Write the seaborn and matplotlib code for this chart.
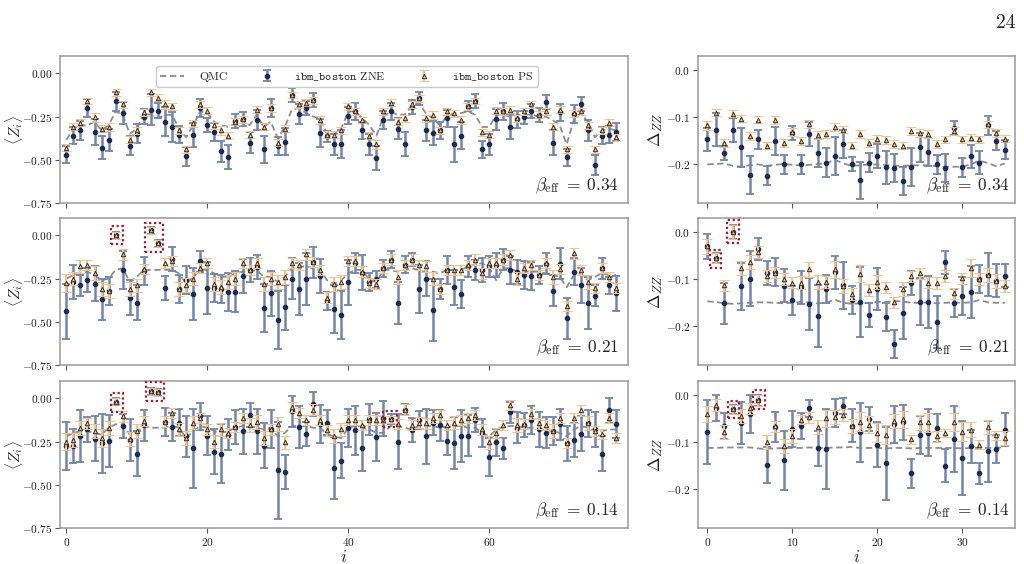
import numpy as np
import pandas as pd
import matplotlib
matplotlib.use("Agg")
import matplotlib.pyplot as plt
import seaborn as sns
from matplotlib.patches import Rectangle
from matplotlib.ticker import FuncFormatter, FixedLocator

# ---------------- data: <Z_i> panels (i = 0..78) ----------------
beta_labels = ["0.34", "0.21", "0.14"]

qmc_z_034 = [-0.385, -0.32, -0.30, -0.30, -0.28, -0.33, -0.30, -0.22, -0.24, -0.35,
             -0.32, -0.23, -0.24, -0.26, -0.24, -0.24, -0.32, -0.37, -0.30, -0.22,
             -0.23, -0.28, -0.30, -0.31, -0.29, -0.27, -0.30, -0.24, -0.31, -0.28,
             -0.375, -0.31, -0.21, -0.20, -0.23, -0.25, -0.26, -0.35, -0.35, -0.32,
             -0.22, -0.22, -0.26, -0.30, -0.36, -0.25, -0.22, -0.24, -0.24, -0.19,
             -0.17, -0.23, -0.26, -0.30, -0.25, -0.23, -0.23, -0.22, -0.24, -0.31,
             -0.31, -0.24, -0.24, -0.25, -0.24, -0.24, -0.24, -0.25, -0.25, -0.27,
             -0.30, -0.41, -0.27, -0.23, -0.28, -0.37, -0.33, -0.32, -0.33]
zne_z_034 = [-0.47, -0.36, -0.33, -0.20, -0.34, -0.43, -0.385, -0.16, -0.23, -0.42,
             -0.35, -0.25, -0.21, -0.215, -0.28, -0.31, -0.355, -0.48, -0.355, -0.20,
             -0.30, -0.34, -0.45, -0.485, -0.275, -0.265, -0.40, -0.27, -0.44, -0.20,
             -0.42, -0.395, -0.125, -0.235, -0.20, -0.155, -0.345, -0.365, -0.41, -0.41,
             -0.245, -0.22, -0.33, -0.41, -0.49, -0.27, -0.22, -0.32, -0.41, -0.195,
             -0.145, -0.33, -0.345, -0.33, -0.26, -0.41, -0.36, -0.19, -0.16, -0.44,
             -0.41, -0.265, -0.22, -0.31, -0.265, -0.255, -0.22, -0.24, -0.165, -0.40,
             -0.225, -0.485, -0.235, -0.175, -0.33, -0.53, -0.36, -0.355, -0.34]
zne_err_z_034 = [0.05, 0.05, 0.055, 0.05, 0.075, 0.065, 0.065, 0.055, 0.065, 0.055,
                 0.055, 0.045, 0.09, 0.045, 0.085, 0.085, 0.05, 0.055, 0.07, 0.05,
                 0.04, 0.05, 0.06, 0.07, 0.04, 0.04, 0.06, 0.06, 0.08, 0.05,
                 0.05, 0.08, 0.04, 0.06, 0.04, 0.04, 0.08, 0.03, 0.06, 0.08,
                 0.05, 0.05, 0.05, 0.06, 0.07, 0.05, 0.05, 0.06, 0.07, 0.04,
                 0.04, 0.06, 0.07, 0.05, 0.05, 0.10, 0.08, 0.03, 0.04, 0.05,
                 0.06, 0.06, 0.05, 0.07, 0.05, 0.04, 0.04, 0.04, 0.04, 0.07,
                 0.05, 0.05, 0.05, 0.04, 0.06, 0.06, 0.05, 0.05, 0.05]
ps_z_034 = [-0.43, -0.31, -0.285, -0.16, -0.255, -0.32, -0.31, -0.11, -0.18, -0.385,
            -0.33, -0.225, -0.11, -0.14, -0.18, -0.19, -0.33, -0.44, -0.29, -0.18,
            -0.215, -0.30, -0.33, -0.36, -0.28, -0.265, -0.355, -0.21, -0.31, -0.20,
            -0.40, -0.32, -0.125, -0.18, -0.17, -0.155, -0.27, -0.355, -0.355, -0.33,
            -0.19, -0.22, -0.27, -0.36, -0.41, -0.22, -0.17, -0.28, -0.26, -0.18,
            -0.145, -0.26, -0.24, -0.33, -0.22, -0.23, -0.27, -0.19, -0.16, -0.34,
            -0.355, -0.215, -0.22, -0.21, -0.26, -0.22, -0.18, -0.24, -0.22, -0.31,
            -0.21, -0.44, -0.23, -0.22, -0.30, -0.44, -0.33, -0.285, -0.37]
ps_err_z_034 = [0.02, 0.02, 0.02, 0.02, 0.025, 0.02, 0.025, 0.02, 0.02, 0.02,
                0.02, 0.02, 0.02, 0.02, 0.025, 0.02, 0.02, 0.02, 0.02, 0.02,
                0.02, 0.02, 0.025, 0.02, 0.02, 0.02, 0.02, 0.02, 0.02, 0.025,
                0.02, 0.02, 0.02, 0.02, 0.02, 0.02, 0.025, 0.02, 0.02, 0.02,
                0.02, 0.02, 0.02, 0.02, 0.025, 0.02, 0.02, 0.02, 0.02, 0.02,
                0.02, 0.02, 0.025, 0.02, 0.02, 0.02, 0.025, 0.02, 0.02, 0.02,
                0.02, 0.02, 0.02, 0.02, 0.02, 0.02, 0.02, 0.02, 0.02, 0.02,
                0.02, 0.02, 0.02, 0.02, 0.02, 0.02, 0.02, 0.02, 0.02]

qmc_z_021 = [-0.25, -0.23, -0.22, -0.21, -0.23, -0.26, -0.25, -0.20, -0.19, -0.27,
             -0.24, -0.20, -0.20, -0.20, -0.20, -0.20, -0.22, -0.28, -0.24, -0.20,
             -0.20, -0.22, -0.24, -0.24, -0.22, -0.21, -0.21, -0.20, -0.24, -0.24,
             -0.27, -0.24, -0.19, -0.18, -0.18, -0.19, -0.20, -0.26, -0.28, -0.26,
             -0.22, -0.20, -0.20, -0.26, -0.27, -0.20, -0.20, -0.21, -0.20, -0.19,
             -0.20, -0.21, -0.21, -0.22, -0.20, -0.20, -0.20, -0.18, -0.17, -0.16,
             -0.19, -0.26, -0.19, -0.19, -0.21, -0.21, -0.21, -0.21, -0.22, -0.23,
             -0.24, -0.30, -0.23, -0.22, -0.26, -0.24, -0.22, -0.23, -0.23]
zne_z_021 = [-0.44, -0.27, -0.29, -0.26, -0.28, -0.37, -0.32, 0.00, -0.20, -0.36,
             -0.39, -0.205, 0.03, -0.045, -0.305, -0.135, -0.31, -0.26, -0.34, -0.15,
             -0.305, -0.305, -0.31, -0.325, -0.325, -0.235, -0.20, -0.185, -0.42, -0.335,
             -0.49, -0.415, -0.25, -0.31, -0.25, -0.155, -0.235, -0.38, -0.425, -0.46,
             -0.27, -0.16, -0.215, -0.27, -0.255, -0.19, -0.14, -0.39, -0.17, -0.14,
             -0.31, -0.25, -0.43, -0.31, -0.20, -0.30, -0.34, -0.18, -0.20, -0.20,
             -0.18, -0.17, -0.14, -0.20, -0.21, -0.23, -0.235, -0.23, -0.165, -0.32,
             -0.165, -0.48, -0.21, -0.29, -0.39, -0.35, -0.19, -0.29, -0.335]
zne_err_z_021 = [0.16, 0.10, 0.06, 0.07, 0.10, 0.12, 0.08, 0.02, 0.11, 0.10,
                 0.10, 0.08, 0.02, 0.02, 0.07, 0.07, 0.08, 0.08, 0.15, 0.06,
                 0.15, 0.08, 0.08, 0.11, 0.12, 0.10, 0.07, 0.07, 0.14, 0.13,
                 0.17, 0.13, 0.12, 0.15, 0.15, 0.09, 0.10, 0.05, 0.14, 0.14,
                 0.13, 0.06, 0.10, 0.05, 0.05, 0.05, 0.05, 0.12, 0.05, 0.04,
                 0.14, 0.10, 0.18, 0.06, 0.08, 0.10, 0.08, 0.06, 0.06, 0.07,
                 0.06, 0.07, 0.06, 0.08, 0.07, 0.08, 0.08, 0.05, 0.06, 0.09,
                 0.09, 0.12, 0.08, 0.10, 0.15, 0.06, 0.06, 0.05, 0.10]
ps_z_021 = [-0.275, -0.25, -0.18, -0.17, -0.22, -0.31, -0.32, 0.00, -0.11, -0.31,
            -0.29, -0.195, 0.03, -0.045, -0.16, -0.15, -0.31, -0.285, -0.25, -0.19,
            -0.16, -0.28, -0.30, -0.27, -0.25, -0.16, -0.20, -0.16, -0.28, -0.25,
            -0.27, -0.24, -0.16, -0.17, -0.11, -0.155, -0.20, -0.36, -0.28, -0.27,
            -0.15, -0.15, -0.21, -0.275, -0.28, -0.19, -0.14, -0.24, -0.17, -0.14,
            -0.17, -0.18, -0.25, -0.31, -0.20, -0.20, -0.20, -0.17, -0.14, -0.22,
            -0.16, -0.16, -0.14, -0.115, -0.25, -0.19, -0.17, -0.23, -0.16, -0.24,
            -0.195, -0.41, -0.105, -0.20, -0.27, -0.305, -0.19, -0.24, -0.305]
ps_err_z_021 = [0.05, 0.04, 0.04, 0.03, 0.04, 0.04, 0.04, 0.02, 0.03, 0.04,
                0.04, 0.03, 0.02, 0.02, 0.03, 0.03, 0.04, 0.04, 0.04, 0.03,
                0.03, 0.04, 0.04, 0.04, 0.04, 0.03, 0.03, 0.03, 0.04, 0.04,
                0.04, 0.04, 0.03, 0.03, 0.03, 0.03, 0.03, 0.03, 0.04, 0.04,
                0.03, 0.03, 0.03, 0.03, 0.03, 0.03, 0.03, 0.04, 0.03, 0.03,
                0.03, 0.03, 0.04, 0.03, 0.03, 0.03, 0.03, 0.03, 0.03, 0.03,
                0.03, 0.03, 0.03, 0.03, 0.04, 0.03, 0.03, 0.03, 0.03, 0.04,
                0.03, 0.03, 0.03, 0.03, 0.04, 0.03, 0.03, 0.03, 0.03]

qmc_z_014 = [-0.22, -0.20, -0.19, -0.19, -0.20, -0.21, -0.17, -0.15, -0.15, -0.21,
             -0.19, -0.16, -0.17, -0.17, -0.17, -0.16, -0.17, -0.23, -0.19, -0.16,
             -0.17, -0.19, -0.20, -0.19, -0.17, -0.16, -0.16, -0.17, -0.18, -0.17,
             -0.22, -0.20, -0.16, -0.16, -0.16, -0.17, -0.17, -0.21, -0.22, -0.23,
             -0.17, -0.16, -0.17, -0.18, -0.20, -0.20, -0.16, -0.16, -0.17, -0.18,
             -0.16, -0.16, -0.16, -0.17, -0.17, -0.16, -0.16, -0.17, -0.17, -0.20,
             -0.22, -0.18, -0.165, -0.16, -0.16, -0.17, -0.17, -0.18, -0.18, -0.19,
             -0.20, -0.22, -0.18, -0.16, -0.17, -0.19, -0.19, -0.18, -0.18]
zne_z_014 = [-0.275, -0.275, -0.22, -0.18, -0.235, -0.26, -0.245, -0.02, -0.16, -0.24,
             -0.32, -0.155, 0.04, 0.035, -0.135, -0.165, -0.14, -0.22, -0.29, -0.105,
             -0.215, -0.31, -0.32, -0.21, -0.165, -0.19, -0.095, -0.19, -0.275, -0.18,
             -0.415, -0.425, -0.075, -0.165, -0.205, -0.035, -0.15, -0.14, -0.405, -0.36,
             -0.17, -0.185, -0.29, -0.12, -0.225, -0.115, -0.12, -0.25, -0.065, -0.185,
             -0.125, -0.22, -0.14, -0.155, -0.245, -0.26, -0.22, -0.215, -0.125, -0.20,
             -0.34, -0.255, -0.29, -0.08, -0.17, -0.155, -0.125, -0.18, -0.20, -0.19,
             -0.15, -0.26, -0.24, -0.205, -0.145, -0.18, -0.32, -0.07, -0.15]
zne_err_z_014 = [0.14, 0.10, 0.15, 0.07, 0.13, 0.17, 0.15, 0.02, 0.07, 0.12,
                 0.13, 0.09, 0.02, 0.02, 0.08, 0.08, 0.08, 0.12, 0.23, 0.08,
                 0.11, 0.13, 0.17, 0.09, 0.10, 0.13, 0.07, 0.13, 0.13, 0.11,
                 0.28, 0.10, 0.09, 0.12, 0.07, 0.07, 0.11, 0.07, 0.18, 0.10,
                 0.11, 0.14, 0.13, 0.09, 0.14, 0.10, 0.03, 0.16, 0.03, 0.07,
                 0.05, 0.16, 0.07, 0.09, 0.08, 0.15, 0.15, 0.12, 0.07, 0.08,
                 0.11, 0.08, 0.06, 0.06, 0.09, 0.07, 0.08, 0.10, 0.09, 0.08,
                 0.09, 0.10, 0.10, 0.10, 0.08, 0.10, 0.10, 0.07, 0.08]
ps_z_014 = [-0.25, -0.24, -0.17, -0.145, -0.19, -0.23, -0.17, -0.02, -0.105, -0.235,
            -0.19, -0.13, 0.04, 0.035, -0.135, -0.085, -0.18, -0.23, -0.14, -0.115,
            -0.18, -0.25, -0.18, -0.20, -0.165, -0.115, -0.155, -0.135, -0.23, -0.18,
            -0.15, -0.255, -0.05, -0.085, -0.125, -0.065, -0.125, -0.185, -0.22, -0.18,
            -0.125, -0.125, -0.155, -0.125, -0.125, -0.125, -0.12, -0.15, -0.065, -0.155,
            -0.14, -0.145, -0.115, -0.095, -0.155, -0.14, -0.125, -0.115, -0.095, -0.18,
            -0.255, -0.20, -0.155, -0.04, -0.155, -0.15, -0.09, -0.145, -0.155, -0.19,
            -0.115, -0.26, -0.115, -0.07, -0.145, -0.19, -0.205, -0.115, -0.23]
ps_err_z_014 = [0.05, 0.04, 0.04, 0.03, 0.04, 0.05, 0.04, 0.02, 0.03, 0.04,
                0.04, 0.03, 0.02, 0.02, 0.03, 0.03, 0.04, 0.04, 0.04, 0.03,
                0.03, 0.04, 0.04, 0.03, 0.03, 0.03, 0.04, 0.04, 0.04, 0.03,
                0.04, 0.04, 0.03, 0.03, 0.03, 0.03, 0.03, 0.03, 0.04, 0.04,
                0.03, 0.03, 0.03, 0.03, 0.03, 0.02, 0.02, 0.03, 0.03, 0.03,
                0.03, 0.03, 0.03, 0.03, 0.03, 0.04, 0.03, 0.03, 0.03, 0.03,
                0.04, 0.03, 0.03, 0.03, 0.04, 0.03, 0.03, 0.03, 0.03, 0.04,
                0.03, 0.03, 0.03, 0.03, 0.04, 0.03, 0.03, 0.03, 0.03]

# ---------------- data: Delta_ZZ panels (i = 0..35) ----------------
qmc_d_034 = [-0.200, -0.199, -0.198, -0.203, -0.205, -0.202, -0.200, -0.203, -0.201, -0.199,
             -0.201, -0.202, -0.201, -0.199, -0.198, -0.190, -0.198, -0.203, -0.202, -0.200,
             -0.200, -0.201, -0.203, -0.203, -0.202, -0.202, -0.202, -0.204, -0.205, -0.205,
             -0.205, -0.200, -0.192, -0.197, -0.204, -0.198]
zne_d_034 = [-0.147, -0.126, -0.175, -0.127, -0.164, -0.222, -0.147, -0.224, -0.150, -0.200,
             -0.134, -0.200, -0.135, -0.175, -0.196, -0.182, -0.157, -0.200, -0.234, -0.196,
             -0.182, -0.206, -0.208, -0.235, -0.206, -0.164, -0.174, -0.200, -0.208, -0.122,
             -0.206, -0.183, -0.196, -0.117, -0.150, -0.169]
zne_err_d_034 = [0.025, 0.035, 0.015, 0.025, 0.042, 0.040, 0.020, 0.020, 0.030, 0.020,
                 0.015, 0.020, 0.025, 0.030, 0.030, 0.040, 0.030, 0.015, 0.040, 0.020,
                 0.025, 0.035, 0.030, 0.030, 0.040, 0.030, 0.030, 0.020, 0.030, 0.015,
                 0.020, 0.025, 0.025, 0.020, 0.020, 0.020]
ps_d_034 = [-0.117, -0.090, -0.155, -0.092, -0.103, -0.140, -0.105, -0.160, -0.106, -0.154,
            -0.131, -0.150, -0.114, -0.138, -0.136, -0.121, -0.126, -0.160, -0.136, -0.154,
            -0.145, -0.148, -0.157, -0.160, -0.129, -0.133, -0.135, -0.157, -0.147, -0.129,
            -0.147, -0.143, -0.147, -0.115, -0.133, -0.145]
ps_err_d_034 = [0.009, 0.008, 0.008, 0.008, 0.008, 0.008, 0.008, 0.007, 0.009, 0.008,
                0.008, 0.008, 0.008, 0.008, 0.008, 0.008, 0.008, 0.007, 0.008, 0.008,
                0.008, 0.008, 0.008, 0.007, 0.008, 0.008, 0.008, 0.008, 0.008, 0.008,
                0.008, 0.008, 0.008, 0.008, 0.008, 0.008]

qmc_d_021 = [-0.147, -0.148, -0.151, -0.152, -0.151, -0.150, -0.149, -0.149, -0.150, -0.151,
             -0.150, -0.148, -0.149, -0.151, -0.150, -0.143, -0.150, -0.152, -0.151, -0.150,
             -0.148, -0.148, -0.146, -0.147, -0.150, -0.150, -0.149, -0.151, -0.150, -0.149,
             -0.150, -0.149, -0.144, -0.149, -0.150, -0.150]
zne_d_021 = [-0.030, -0.055, -0.151, 0.000, -0.115, -0.099, -0.036, -0.087, -0.084, -0.114,
             -0.145, -0.117, -0.152, -0.178, -0.121, -0.085, -0.113, -0.144, -0.148, -0.176,
             -0.121, -0.180, -0.238, -0.171, -0.108, -0.148, -0.148, -0.190, -0.064, -0.151,
             -0.136, -0.127, -0.100, -0.090, -0.103, -0.092]
zne_err_d_021 = [0.027, 0.010, 0.043, 0.015, 0.050, 0.058, 0.024, 0.025, 0.030, 0.035,
                 0.030, 0.035, 0.055, 0.065, 0.030, 0.035, 0.050, 0.030, 0.075, 0.025,
                 0.045, 0.030, 0.030, 0.055, 0.025, 0.050, 0.055, 0.055, 0.025, 0.030,
                 0.040, 0.055, 0.030, 0.045, 0.035, 0.025]
ps_d_021 = [-0.030, -0.055, -0.113, 0.000, -0.076, -0.064, -0.042, -0.093, -0.086, -0.100,
            -0.107, -0.107, -0.079, -0.106, -0.106, -0.079, -0.114, -0.131, -0.088, -0.123,
            -0.106, -0.117, -0.149, -0.120, -0.094, -0.087, -0.107, -0.108, -0.093, -0.130,
            -0.098, -0.076, -0.100, -0.090, -0.103, -0.114]
ps_err_d_021 = [0.016, 0.010, 0.012, 0.015, 0.015, 0.015, 0.012, 0.013, 0.012, 0.013,
                0.012, 0.013, 0.016, 0.015, 0.013, 0.018, 0.015, 0.012, 0.018, 0.012,
                0.015, 0.012, 0.012, 0.015, 0.012, 0.012, 0.012, 0.012, 0.012, 0.012,
                0.012, 0.020, 0.013, 0.015, 0.015, 0.012]

qmc_d_014 = [-0.112, -0.112, -0.111, -0.111, -0.111, -0.111, -0.113, -0.115, -0.113, -0.112,
             -0.112, -0.112, -0.111, -0.112, -0.112, -0.111, -0.111, -0.110, -0.112, -0.112,
             -0.112, -0.113, -0.112, -0.112, -0.113, -0.112, -0.112, -0.112, -0.112, -0.112,
             -0.113, -0.112, -0.112, -0.112, -0.112, -0.110]
zne_d_014 = [-0.078, -0.027, -0.065, -0.030, -0.059, -0.040, -0.011, -0.148, -0.068, -0.138,
             -0.072, -0.066, -0.028, -0.113, -0.114, -0.038, -0.023, -0.065, -0.079, -0.051,
             -0.105, -0.145, -0.062, -0.058, -0.166, -0.084, -0.080, -0.070, -0.150, -0.094,
             -0.133, -0.108, -0.166, -0.119, -0.114, -0.073]
zne_err_d_014 = [0.068, 0.027, 0.027, 0.010, 0.045, 0.040, 0.012, 0.038, 0.032, 0.063,
                 0.038, 0.028, 0.018, 0.037, 0.085, 0.030, 0.018, 0.035, 0.063, 0.025,
                 0.048, 0.078, 0.040, 0.038, 0.030, 0.040, 0.050, 0.030, 0.035, 0.070,
                 0.078, 0.035, 0.023, 0.065, 0.030, 0.035]
ps_d_014 = [-0.041, -0.021, -0.078, -0.030, -0.045, -0.028, -0.011, -0.100, -0.066, -0.107,
            -0.086, -0.052, -0.047, -0.068, -0.049, -0.047, -0.042, -0.066, -0.056, -0.063,
            -0.080, -0.084, -0.055, -0.051, -0.094, -0.058, -0.058, -0.087, -0.080, -0.057,
            -0.078, -0.073, -0.105, -0.068, -0.085, -0.091]
ps_err_d_014 = [0.017, 0.012, 0.015, 0.010, 0.015, 0.012, 0.012, 0.015, 0.012, 0.015,
                0.015, 0.010, 0.012, 0.015, 0.018, 0.015, 0.012, 0.015, 0.020, 0.018,
                0.020, 0.020, 0.015, 0.018, 0.010, 0.015, 0.020, 0.012, 0.008, 0.020,
                0.020, 0.015, 0.010, 0.015, 0.010, 0.015]

# highlighted (boxed) outliers: (x0, x1, y0, y1) per panel
boxes_z = {"0.34": [], "0.21": [(6.4, 8.05, -0.053, 0.053), (11.2, 13.7, -0.096, 0.07)],
           "0.14": [(6.35, 8.05, -0.077, 0.032), (11.25, 13.9, -0.014, 0.094), (45.0, 46.9, -0.167, -0.073)]}
boxes_d = {"0.34": [], "0.21": [(0.35, 1.64, -0.076, -0.037), (2.3, 3.76, -0.023, 0.026)],
           "0.14": [(2.39, 3.68, -0.048, -0.012), (5.32, 6.73, -0.029, 0.0105)]}

z_sets = [(qmc_z_034, zne_z_034, zne_err_z_034, ps_z_034, ps_err_z_034),
          (qmc_z_021, zne_z_021, zne_err_z_021, ps_z_021, ps_err_z_021),
          (qmc_z_014, zne_z_014, zne_err_z_014, ps_z_014, ps_err_z_014)]
d_sets = [(qmc_d_034, zne_d_034, zne_err_d_034, ps_d_034, ps_err_d_034),
          (qmc_d_021, zne_d_021, zne_err_d_021, ps_d_021, ps_err_d_021),
          (qmc_d_014, zne_d_014, zne_err_d_014, ps_d_014, ps_err_d_014)]
for s in z_sets:
    assert all(len(a) == 79 for a in s), [len(a) for a in s]
for s in d_sets:
    assert all(len(a) == 36 for a in s), [len(a) for a in s]

# ---------------- style ----------------
sns.set_theme(style="white")
plt.rcParams.update({
    "font.family": ["cmr10", "DejaVu Serif"],
    "mathtext.fontset": "cm",
    "axes.unicode_minus": False,
    "axes.edgecolor": "#9a9a9a",
    "axes.linewidth": 1.1,
    "xtick.color": "#555555",
    "ytick.color": "#555555",
    "xtick.labelcolor": "#222222",
    "ytick.labelcolor": "#222222",
})

ZNE_BAR = "#7385a8"
ZNE_CAP = "#2e4a86"
ZNE_PT = "#1b2a4e"
PS_BAR = "#f2c18c"
PS_CAP = "#f0b878"
PS_FACE = "#e9c48f"
PS_EDGE = "#3b2c1e"
QMC_C = "#8c8c8c"
BOX_C = "#9e1b2f"

fig = plt.figure(figsize=(10.24, 5.64), dpi=100)
rows_bottom = [0.640, 0.3528, 0.0638]
row_h = 0.2606
left_axes = [fig.add_axes([0.0586, b, 0.5547, row_h]) for b in rows_bottom]
right_axes = [fig.add_axes([0.6816, b, 0.3096, row_h]) for b in rows_bottom]

def fmt2(v, _):
    return "$%.2f$" % v if abs(v) > 1e-9 else "$0.00$"

def fmt1(v, _):
    return "$%.1f$" % v if abs(v) > 1e-9 else "$0.0$"

def draw_panel(ax, data, boxes, big):
    qmc, zne, zerr, ps, perr = data
    idx = np.arange(len(qmc))
    df = pd.DataFrame({"i": idx, "qmc": qmc})
    sns.lineplot(data=df, x="i", y="qmc", ax=ax, color=QMC_C, lw=1.3,
                 dashes=False, zorder=1, legend=False)
    ax.lines[-1].set_linestyle((0, (3.5, 2)))
    h_q = ax.lines[-1]
    h_z = ax.errorbar(idx, zne, yerr=zerr, fmt="o", ms=3.0, color=ZNE_PT,
                      ecolor=ZNE_BAR, elinewidth=1.8, capsize=3.0, capthick=1.3, zorder=3)
    for c in h_z[1]:
        c.set_color(ZNE_CAP)
    h_p = ax.errorbar(idx, ps, yerr=perr, fmt="^", ms=3.2, mfc=PS_FACE, mec=PS_EDGE, mew=0.7,
                      ecolor=PS_BAR, elinewidth=1.5, capsize=3.6, capthick=1.5, zorder=4)
    for c in h_p[1]:
        c.set_color(PS_CAP)
    for (x0, x1, y0, y1) in boxes:
        ax.add_patch(Rectangle((x0, y0), x1 - x0, y1 - y0, fill=False, ec=BOX_C,
                               lw=1.6, ls=(0, (1, 1.2)), zorder=5))
    if big:
        ax.set_xlim(-0.9, 79.7)
        ax.set_ylim(-0.75, 0.1)
        ax.xaxis.set_major_locator(FixedLocator([0, 20, 40, 60]))
        ax.yaxis.set_major_locator(FixedLocator([0.0, -0.25, -0.5, -0.75]))
        ax.yaxis.set_major_formatter(FuncFormatter(fmt2))
        ax.set_ylabel(r"$\langle Z_i\rangle$", fontsize=11)
        ax.yaxis.set_label_coords(-0.062, 0.5)
    else:
        ax.set_xlim(-1.1, 36.2)
        ax.set_ylim(-0.282, 0.03)
        ax.xaxis.set_major_locator(FixedLocator([0, 10, 20, 30]))
        ax.yaxis.set_major_locator(FixedLocator([0.0, -0.1, -0.2]))
        ax.yaxis.set_major_formatter(FuncFormatter(fmt1))
        ax.set_ylabel(r"$\Delta_{ZZ}$", fontsize=12.5)
        ax.yaxis.set_label_coords(-0.105, 0.5)
    ax.xaxis.set_major_formatter(FuncFormatter(lambda v, _: "$%d$" % v))
    ax.tick_params(axis="both", which="major", direction="out", length=3.5, width=0.8,
                   labelsize=8.2, bottom=True, left=True, pad=2)
    ax.set_xlabel("")
    return h_q, h_z, h_p

handles = None
for r in range(3):
    hq, hz, hp = draw_panel(left_axes[r], z_sets[r], boxes_z[beta_labels[r]], True)
    if r == 0:
        handles = (hq, hz, hp)
    draw_panel(right_axes[r], d_sets[r], boxes_d[beta_labels[r]], False)
    for ax in (left_axes[r], right_axes[r]):
        ax.text(0.985, 0.05, r"$\beta_{\rm eff}\;=\;%s$" % beta_labels[r], transform=ax.transAxes,
                ha="right", va="bottom", fontsize=12.5)
        if r < 2:
            ax.tick_params(labelbottom=False)
        else:
            ax.set_xlabel(r"$i$", fontsize=12.5)
            ax.xaxis.set_label_coords(0.5, -0.14)

left_axes[0].legend(handles, ["QMC", r"$\mathtt{ibm\_boston}$ ZNE", r"$\mathtt{ibm\_boston}$ PS"],
                    ncol=3, loc="upper center", bbox_to_anchor=(0.505, 0.975), fontsize=8.5,
                    frameon=True, edgecolor="#cccccc", handlelength=2.0, columnspacing=2.3,
                    borderpad=0.35, handletextpad=1.3, framealpha=1.0)

fig.text(0.992, 0.975, "24", ha="right", va="top", fontsize=14)

fig.savefig("out.png", dpi=100)
